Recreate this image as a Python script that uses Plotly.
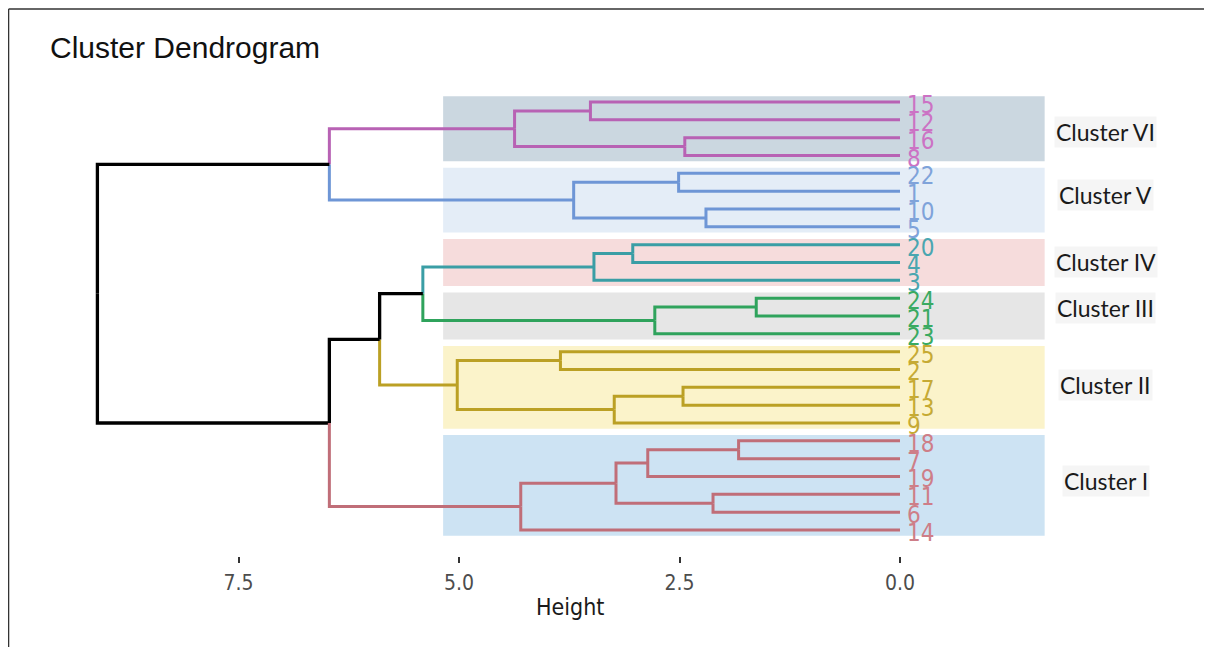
import plotly.graph_objects as go

# ---------------- data ----------------
leaf_labels = ["15", "12", "16", "8", "22", "1", "10", "5", "20", "4", "3",
               "24", "21", "23", "25", "2", "17", "13", "9",
               "18", "7", "19", "11", "6", "14"]

cluster_names = ["Cluster VI", "Cluster V", "Cluster IV", "Cluster III", "Cluster II", "Cluster I"]
cluster_sizes = [4, 4, 3, 3, 5, 6]

# merges: (child a, child b, height); str = leaf label, int = earlier merge index
merges = [
    ("15", "12", 3.51),   # 0
    ("16", "8", 2.44),    # 1
    (0, 1, 4.37),         # 2
    ("22", "1", 2.51),    # 3
    ("10", "5", 2.20),    # 4
    (3, 4, 3.70),         # 5
    (2, 5, 6.47),         # 6
    ("20", "4", 3.03),    # 7
    (7, "3", 3.47),       # 8
    ("24", "21", 1.63),   # 9
    (9, "23", 2.78),      # 10
    (8, 10, 5.41),        # 11
    ("25", "2", 3.85),    # 12
    ("17", "13", 2.46),   # 13
    (13, "9", 3.24),      # 14
    (12, 14, 5.02),       # 15
    (11, 15, 5.90),       # 16
    ("18", "7", 1.83),    # 17
    (17, "19", 2.86),     # 18
    ("11", "6", 2.12),    # 19
    (18, 19, 3.22),       # 20
    (20, "14", 4.30),     # 21
    (16, 21, 6.47),       # 22
    (6, 22, 9.10),        # 23
]

x_tick_vals = [7.5, 5.0, 2.5, 0.0]
x_tick_text = ["7.5", "5.0", "2.5", "0.0"]

# ---------------- styles ----------------
cluster_line_colors = ["#B862B4", "#6E96D6", "#3A9EA5", "#2FA35C", "#BBA024", "#C06E78"]
cluster_text_colors = ["#CC72C4", "#7FA3DA", "#4AA6B0", "#3AAA62", "#C6AA34", "#CE7E88"]
cluster_bg_colors = ["#CBD7E0", "#E4EDF7", "#F6DCDC", "#E6E6E6", "#FBF3CA", "#CDE3F3"]
cluster_label_y = [1.68, 5.2, 8.97, 11.55, 15.87, 21.26]
bg_x0, bg_x1 = 5.18, -1.64
cluster_label_x = -2.33
bg_pad = 0.32

narrow = "Liberation Sans Narrow, Arial Narrow, DejaVu Sans Condensed, sans-serif"

# ---------------- compute tree geometry ----------------
leaf_pos = {lab: i for i, lab in enumerate(leaf_labels)}
leaf_cluster = {}
k = 0
for ci, n in enumerate(cluster_sizes):
    for j in range(n):
        leaf_cluster[leaf_labels[k]] = ci
        k += 1

node_y, node_h, node_cl = [], [], []


def child_info(c):
    if isinstance(c, str):
        return leaf_pos[c], 0.0, leaf_cluster[c]
    return node_y[c], node_h[c], node_cl[c]


segments = {}  # color key -> (xs, ys)
for a, b, h in merges:
    ya, ha, ca = child_info(a)
    yb, hb, cb = child_info(b)
    yp = (ya + yb) / 2.0
    for yc, hc, cc in ((ya, ha, ca), (yb, hb, cb)):
        key = cc if cc is not None else "root"
        xs, ys = segments.setdefault(key, ([], []))
        xs += [h, h, hc, None]
        ys += [yp, yc, yc, None]
    node_y.append(yp)
    node_h.append(h)
    node_cl.append(ca if (ca is not None and ca == cb) else None)

fig = go.Figure()

# cluster background rectangles
shapes = []
start = 0
for ci, n in enumerate(cluster_sizes):
    shapes.append(dict(type="rect", xref="x", yref="y",
                       x0=bg_x0, x1=bg_x1, y0=start - bg_pad, y1=start + n - 1 + bg_pad,
                       fillcolor=cluster_bg_colors[ci], line=dict(width=0), layer="below"))
    start += n

for key, (xs, ys) in segments.items():
    if key == "root":
        color, width = "#000000", 3.3
    else:
        color, width = cluster_line_colors[key], 3.0
    fig.add_trace(go.Scatter(x=xs, y=ys, mode="lines",
                             line=dict(color=color, width=width),
                             hoverinfo="skip", showlegend=False))

# leaf labels
annotations = []
for lab in leaf_labels:
    ci = leaf_cluster[lab]
    annotations.append(dict(x=0, y=leaf_pos[lab], xref="x", yref="y", text=lab,
                            showarrow=False, xanchor="left", yanchor="middle",
                            xshift=5, yshift=-3,
                            font=dict(family=narrow, size=24, color=cluster_text_colors[ci])))

# cluster names
for ci, name in enumerate(cluster_names):
    annotations.append(dict(x=cluster_label_x, y=cluster_label_y[ci], xref="x", yref="y",
                            text=name, showarrow=False, xanchor="center", yanchor="middle",
                            bgcolor="#F5F5F5",
                            font=dict(family="Lato, Open Sans, sans-serif", size=23, color="#1A1A1A")))

# x-axis title
annotations.append(dict(x=0.4513, y=-0.103, xref="paper", yref="paper", text="Height",
                        showarrow=False, xanchor="center", yanchor="middle",
                        font=dict(family=narrow, size=23, color="#1A1A1A")))

# page frame (page body has an 8px offset; figure is sized to fit the window)
shapes += [
    dict(type="line", xref="paper", yref="paper", x0=-0.0455, x1=-0.0455, y0=1.1028, y1=-0.2,
         line=dict(color="#333333", width=1.4)),
    dict(type="line", xref="paper", yref="paper", x0=-0.0455, x1=1.03, y0=1.1028, y1=1.1028,
         line=dict(color="#333333", width=1.4)),
]

fig.update_layout(
    width=1204, height=639,
    margin=dict(l=52, r=22, t=52, b=91),
    paper_bgcolor="white", plot_bgcolor="white",
    title=dict(text="Cluster Dendrogram", x=42 / 1204, xref="container", xanchor="left",
               y=1 - 39 / 639, yref="container", yanchor="middle",
               font=dict(family="Liberation Sans, Arial, sans-serif", size=30, color="#111111")),
    annotations=annotations,
    shapes=shapes,
    xaxis=dict(range=[9.524, -3.288], tickvals=x_tick_vals, ticktext=x_tick_text,
               ticks="outside", ticklen=6, tickwidth=1.5, tickcolor="#333333",
               ticklabelstandoff=2,
               tickfont=dict(family=narrow, size=21, color="#4D4D4D"),
               showgrid=False, zeroline=False, showline=False),
    yaxis=dict(range=[25.46, -2.356], visible=False, showgrid=False, zeroline=False),
)

fig.write_html("out.html")
